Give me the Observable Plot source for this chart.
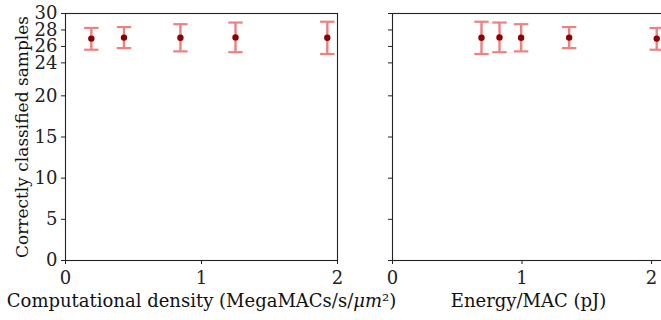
<!DOCTYPE html>
<html>
<head>
<meta charset="utf-8">
<script src="https://cdn.jsdelivr.net/npm/d3@7"></script>
<script src="https://cdn.jsdelivr.net/npm/@observablehq/plot@0.6"></script>
<style>
  html, body { margin: 0; padding: 0; background: white; }
  #wrap { position: relative; width: 661px; height: 320px; overflow: hidden; background: white; }
  #wrap > svg { position: absolute; top: 0; }
</style>
</head>
<body>
<div id="wrap"></div>
<script>
// ---- data ----
const densityX = [0.19, 0.43, 0.845, 1.25, 1.925];   // MegaMACs/s/µm²
const energyX  = [2.04, 1.364, 0.993, 0.826, 0.687]; // pJ per MAC
const meanCorrect = [26.95, 27.07, 27.05, 27.1, 27.05];
const lowCorrect  = [25.6, 25.8, 25.4, 25.3, 25.08];
const highCorrect = [28.25, 28.35, 28.7, 28.9, 29.0];
const yTicks = [0, 5, 10, 15, 20, 24, 26, 28, 30];
const xTicks = [0, 1, 2];
const xLabels = ["Computational density (MegaMACs/s/μm²)", "Energy/MAC (pJ)"];
const yLabel = "Correctly classified samples";

const rows = (xs) => xs.map((x, i) => ({x, y: meanCorrect[i], lo: lowCorrect[i], hi: highCorrect[i]}));

const errColor = "#f08080";
const ptColor = "#8b0000";
const axisColor = "#222";
const capSymbol = { draw(ctx) { ctx.moveTo(-7.2, 0); ctx.lineTo(7.2, 0); } };
const font = "'DejaVu Serif', 'Liberation Serif', serif";

function panel({data, width, marginLeft, marginRight, xDomain, xLabel, showYLabels}) {
  const marks = [
    Plot.frame({stroke: axisColor, strokeWidth: 1.1}),
    Plot.axisX({ticks: xTicks, tickSize: 4, tickPadding: 7, tickFormat: d3.format("d"), label: null}),
    Plot.axisY({ticks: yTicks, tickSize: 4, tickPadding: 4, label: null,
                tickFormat: showYLabels ? d3.format("d") : () => ""}),
    Plot.ruleX(data, {x: "x", y1: "lo", y2: "hi", stroke: errColor, strokeWidth: 2.4}),
    Plot.dot(data, {x: "x", y: "hi", symbol: capSymbol, r: 4, stroke: errColor, strokeWidth: 2.2, fill: "none"}),
    Plot.dot(data, {x: "x", y: "lo", symbol: capSymbol, r: 4, stroke: errColor, strokeWidth: 2.2, fill: "none"}),
    Plot.dot(data, {x: "x", y: "y", r: 3.2, fill: ptColor, stroke: "none"}),
    Plot.text([xLabel], {frameAnchor: "bottom", dy: 41, lineAnchor: "middle", textAnchor: "middle", text: d => d, fill: "#111"})
  ];
  if (showYLabels) {
    marks.push(Plot.text([yLabel], {frameAnchor: "left", dx: -43, rotate: -90, lineAnchor: "middle", textAnchor: "middle",
                                    fontSize: 17, text: d => d, fill: "#111"}));
  }
  const svg = Plot.plot({
    width, height: 320,
    marginTop: 13, marginBottom: 60, marginLeft, marginRight,
    x: {domain: xDomain},
    y: {domain: [0, 30]},
    style: {fontFamily: font, fontSize: "18px", color: axisColor, background: "transparent", overflow: "visible"},
    marks
  });
  // italic math part (μm) as in the LaTeX label
  d3.select(svg).selectAll("text").filter(function () { return this.textContent === xLabel && xLabel.includes("μm"); })
    .each(function () {
      const parts = xLabel.split("μm");
      const t = d3.select(this);
      t.text(null);
      t.append("tspan").text(parts[0]);
      t.append("tspan").attr("font-style", "italic").text("μm");
      t.append("tspan").text(parts[1]);
    });
  return svg;
}

const wrap = document.getElementById("wrap");
const left = panel({data: rows(densityX), width: 345, marginLeft: 65, marginRight: 8, xDomain: [0, 2.0], xLabel: xLabels[0], showYLabels: true});
left.style.left = "0px";
wrap.appendChild(left);
const right = panel({data: rows(energyX), width: 324, marginLeft: 52, marginRight: 0, xDomain: [0, 2.1], xLabel: xLabels[1], showYLabels: false});
right.style.left = "340px";
wrap.appendChild(right);
</script>
</body>
</html>
